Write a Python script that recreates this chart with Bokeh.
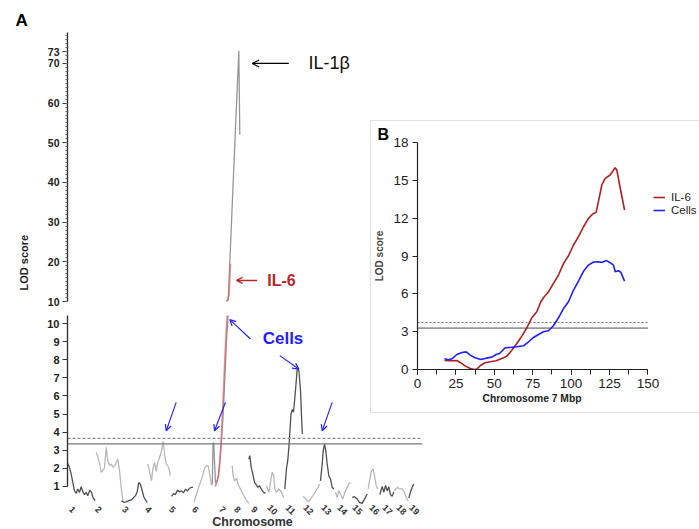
import math
from bokeh.plotting import figure
from bokeh.models import (Range1d, FixedTicker, Label, Arrow, OpenHead, Title,
                          Legend, LegendItem)
from bokeh.core.properties import value
from bokeh.layouts import row, column
from bokeh.embed import file_html
from bokeh.resources import INLINE

FONT = "Liberation Sans"

# ---------------- Panel A data (genome position in plot units, LOD score) ----------------
chromosomes = ["1", "2", "3", "4", "5", "6", "7", "8", "9", "10",
               "11", "12", "13", "14", "15", "16", "17", "18", "19"]
chrom_label_pos = [5, 31, 58, 81, 105, 128, 155, 170, 187, 205,
                   223, 241, 259, 275, 290, 307, 320, 334, 347]
chrom_label_lod = -0.29

chr1_pos = [0.3, 2, 3.7, 5.3, 7, 8.7, 10.3, 12, 13.7, 15.3, 17, 18.7, 20.3, 22.3, 24, 25.7, 27.7]
chr1_lod = [2.27, 2.05, 1.68, 1.22, 0.76, 0.62, 0.86, 0.67, 0.98, 0.71, 0.54, 0.67, 0.49, 0.8, 0.67, 0.36, 0.21]
chr2_pos = [28.7, 30.3, 32.3, 33.7, 35.3, 37, 38.7, 40.3, 42, 43.7, 45.7, 47.3, 49, 50.3, 52, 53.7, 55.3]
chr2_lod = [2.88, 2.6, 2.24, 1.78, 1.87, 2.05, 3.16, 2.42, 2.15, 2.24, 2.05, 2.15, 2.33, 2.51, 1.87, 0.95, 0.21]
chr3_pos = [54, 56.3, 58.7, 61.3, 63.7, 65.7, 68, 69.7, 71.3, 73, 74.7, 76.3, 78, 79.7]
chr3_lod = [0.21, 0.12, 0.15, 0.21, 0.25, 0.36, 0.49, 0.71, 1.22, 1.1, 0.76, 0.43, 0.25, 0.12]
chr4_pos = [80.3, 81.7, 83, 84, 85.3, 87, 88.7, 90.3, 92, 94, 95.7, 97, 98.7, 100.3, 102, 103]
chr4_lod = [2.24, 1.91, 1.54, 1.31, 1.96, 2.33, 1.83, 2.33, 2.57, 2.97, 3.5, 2.79, 2.24, 2.15, 1.87, 1.59]
chr5_pos = [104, 106, 108, 110, 112, 114, 116, 118, 120, 122, 124, 125.5]
chr5_lod = [0.45, 0.6, 0.55, 0.8, 0.7, 0.75, 0.65, 0.85, 0.75, 0.9, 0.95, 0.95]
chr6_pos = [126.5, 128, 130, 132, 134.7, 137, 139, 140.7, 142, 143.7, 144.5]
chr6_lod = [0.12, 0.4, 0.75, 1.1, 1.5, 2.0, 2.15, 2.15, 1.75, 1.15, 1.05]
chr7_pos = [144.8, 145.5, 146.3, 147, 148, 149, 150.5, 153, 155.3, 157.3, 159, 160.7, 171.3, 172.3]
chr7_lod = [1.1, 3.35, 3.43, 2.4, 1.2, 1.22, 1.5, 2.79, 4.63, 6.85, 9.06, 10.5, 73.2, 52]
chr8_pos = [164.7, 165.7, 167, 169, 171, 173, 175, 177, 179, 181.5]
chr8_lod = [2.15, 1.6, 1.3, 1.45, 1.05, 0.86, 0.62, 0.42, 0.22, 0.06]
chr9_pos = [181.3, 182.3, 183.7, 185.7, 187, 188.7, 190.3, 192, 193.7, 195.3, 197, 198]
chr9_lod = [2.51, 2.7, 2.05, 1.59, 1.22, 1.1, 0.95, 1.04, 0.86, 0.73, 0.62, 0.67]
chr10_pos = [199, 201.3, 203, 204.7, 206.3, 207.3, 209, 211.3, 213, 214.7, 216.3]
chr10_lod = [1.04, 0.67, 1.22, 1.78, 1.59, 0.86, 0.67, 0.86, 0.76, 0.58, 0.39]
chr11_pos = [217.3, 219, 220.3, 221.7, 222.7, 223.5, 224.7, 226, 227.5, 228.7, 229.5, 230.5, 231.5, 233, 234, 234.8]
chr11_lod = [0.86, 2.0, 2.45, 3.4, 4.3, 5.0, 5.25, 5.1, 6.0, 6.8, 7.4, 7.55, 7.35, 6.3, 4.9, 3.9]
chr12_pos = [235, 237, 239, 241.3, 243.7, 246.3, 248, 250.3, 252]
chr12_lod = [0.42, 0.4, 0.25, 0.16, 0.35, 0.58, 0.72, 0.92, 1.13]
chr13_pos = [253, 254.7, 255.7, 257, 258.3, 259.7, 261.3, 263, 264.7, 266.3]
chr13_lod = [1.31, 2.24, 2.97, 3.34, 2.97, 2.24, 1.59, 1.41, 0.95, 0.86]
chr14_pos = [268, 269.7, 271.3, 273, 275.3, 277.3, 279.7, 281.3, 283]
chr14_lod = [0.67, 0.39, 0.76, 0.58, 0.3, 0.67, 0.95, 1.13, 1.22]
chr15_pos = [284.7, 287, 289.7, 292, 294.7, 297, 299.7]
chr15_lod = [0.4, 0.43, 0.3, 0.12, 0.06, 0.3, 0.58]
chr16_pos = [300.7, 302.3, 304, 305.7, 307, 308.7, 310.3]
chr16_lod = [0.86, 1.41, 1.87, 1.96, 1.59, 1.04, 0.86]
chr17_pos = [312.3, 314.7, 316.3, 318, 319.7, 321.3, 323, 324.7, 326.3]
chr17_lod = [0.55, 1.0, 0.67, 1.05, 0.76, 0.98, 0.55, 0.45, 0.7]
chr18_pos = [327, 329.7, 332.3, 334.7, 337, 339, 340.7]
chr18_lod = [0.76, 0.95, 0.86, 0.86, 0.67, 0.35, 0.2]
chr19_pos = [341.3, 343, 344.7, 346.3]
chr19_lod = [0.35, 0.7, 0.95, 1.13]

il6_chr7_pos = [147.5, 148.5, 149.7, 151, 152, 153.7, 155.3, 157, 158.7, 159.7, 161.5, 163]
il6_chr7_lod = [1.0, 1.1, 1.32, 1.55, 2.05, 3.53, 5.37, 7.58, 9.6, 10.44, 11.5, 19.5]

a_threshold_span = [0, 355]
a_threshold_dashed = 3.66
a_threshold_solid = 3.35

upper_ticks = [10, 20, 30, 40, 50, 60, 70, 73]
lower_ticks = [1, 2, 3, 4, 5, 6, 7, 8, 9, 10]

# ---------------- Panel B data (chromosome 7 Mbp, LOD) ----------------
b_il6_mbp = [17.6, 21.3, 25.6, 27.8, 31, 34.3, 37.1, 38.6, 41.2, 44.1, 47.3, 51.2, 54.9, 58.2,
             61.4, 64.7, 67.9, 71.2, 74.4, 77.7, 80.3, 82, 85.3, 88.5, 91.8, 95.1, 98.3, 101.6,
             104.8, 108.1, 111.3, 114.1, 116.3, 117.8, 120, 122.2, 125.4, 128.7, 129.8, 132, 134.8]
b_il6_lod = [0.71, 0.69, 0.71, 0.56, 0.29, 0.08, 0, 0.03, 0.34, 0.53, 0.61, 0.69, 0.87, 1.06,
             1.53, 2.06, 2.65, 3.31, 4.1, 4.58, 5.37, 5.69, 6.16, 6.83, 7.49, 8.41, 9.02, 9.87,
             10.53, 11.32, 11.98, 12.33, 12.46, 13.31, 14.63, 15.16, 15.42, 16.0, 15.82, 14.37, 12.65]
b_cells_mbp = [17.6, 20.2, 22.4, 25.6, 28.9, 31.7, 34.3, 37.5, 41.2, 44.7, 48.4, 51.2, 53.4, 57.1,
               60.3, 64.7, 69, 72.3, 75.5, 78.8, 82, 85.3, 88.5, 91.8, 95.1, 98.3, 101.6, 104.8,
               108.1, 111.3, 114.6, 117.8, 120, 122.8, 125.4, 127.6, 128.7, 130.9, 132.4, 134.8]
b_cells_lod = [0.85, 0.77, 0.85, 1.19, 1.35, 1.4, 1.14, 0.93, 0.79, 0.9, 0.98, 1.19, 1.27, 1.72,
               1.75, 1.8, 1.88, 2.2, 2.54, 2.78, 2.99, 3.07, 3.47, 4.1, 4.84, 5.37, 6.3, 7.01,
               7.8, 8.28, 8.52, 8.54, 8.49, 8.65, 8.47, 8.28, 7.75, 7.83, 7.7, 7.01]
b_threshold_span = [0, 150]
b_threshold_dashed = 3.73
b_threshold_solid = 3.28
b_xticks = [0, 25, 50, 75, 100, 125, 150]
b_xminor = [0, 12.5, 25, 37.5, 50, 62.5, 75, 87.5, 100, 112.5, 125, 137.5, 150]
b_yticks = [0, 3, 6, 9, 12, 15, 18]

chrom_pos = [chr1_pos, chr2_pos, chr3_pos, chr4_pos, chr5_pos, chr6_pos, chr7_pos, chr8_pos,
             chr9_pos, chr10_pos, chr11_pos, chr12_pos, chr13_pos, chr14_pos, chr15_pos,
             chr16_pos, chr17_pos, chr18_pos, chr19_pos]
chrom_lod = [chr1_lod, chr2_lod, chr3_lod, chr4_lod, chr5_lod, chr6_lod, chr7_lod, chr8_lod,
             chr9_lod, chr10_lod, chr11_lod, chr12_lod, chr13_lod, chr14_lod, chr15_lod,
             chr16_lod, chr17_lod, chr18_lod, chr19_lod]

DARK, LIGHT, MID = "#505050", "#b8b8b8", "#969696"
IL6_PINK = "#d46a6a"
BLUE = "#1f1fff"


def style_y(ax, size="11px"):
    ax.axis_line_color = "#333333"
    ax.axis_line_width = 1.4
    ax.major_tick_line_color = "#333333"
    ax.major_tick_line_width = 1.2
    ax.major_tick_out = 5
    ax.major_tick_in = 0
    ax.minor_tick_line_color = "#666666"
    ax.minor_tick_out = 2
    ax.minor_tick_in = 0
    ax.major_label_text_font = FONT
    ax.major_label_text_font_style = "bold"
    ax.major_label_text_font_size = size
    ax.major_label_text_color = "#222222"
    ax.major_label_standoff = 3


def base(fig):
    fig.grid.visible = False
    fig.outline_line_color = None
    fig.background_fill_color = "white"
    fig.border_fill_color = "white"


def try_set(obj, name, val):
    try:
        setattr(obj, name, val)
    except Exception:
        pass


xr = Range1d(0, 355)

# ---------------- Panel A upper (LOD 10-78) ----------------
pu = figure(frame_width=355, frame_height=269, x_range=xr, y_range=Range1d(10, 77.8),
            x_axis_location=None, output_backend="svg", toolbar_location=None,
            min_border_left=67, min_border_right=6, min_border_top=32, min_border_bottom=7)
base(pu)
style_y(pu.yaxis[0], "10.5px")
pu.yaxis[0].ticker = FixedTicker(ticks=upper_ticks, minor_ticks=list(range(10, 78)))
tA = Title(text="A", align="left", offset=-52, text_font=FONT, text_font_style="bold",
           text_font_size="17px", text_color="black")
try_set(tA, "standoff", 6)
pu.add_layout(tA, "above")
tY = Title(text="LOD score", align="left", offset=11, text_font=FONT,
           text_font_style="bold", text_font_size="11px", text_color="#222222")
try_set(tY, "standoff", 29)
pu.add_layout(tY, "left")

# ---------------- Panel A lower (LOD -1.38..10.45; labels drawn below LOD 0) ----------------
pl = figure(frame_width=355, frame_height=214, x_range=xr, y_range=Range1d(-1.382, 10.45),
            x_axis_location=None, output_backend="svg", toolbar_location=None,
            min_border_left=67, min_border_right=6, min_border_top=7, min_border_bottom=0)
base(pl)
style_y(pl.yaxis[0], "11px")
pl.yaxis[0].ticker = FixedTicker(ticks=lower_ticks, minor_ticks=[])
pl.yaxis[0].bounds = (1, 10.45)

for fig in (pu, pl):
    for i, (xs, ys) in enumerate(zip(chrom_pos, chrom_lod)):
        col = MID if i == 6 else (DARK if i % 2 == 0 else LIGHT)
        fig.line(xs, ys, line_color=col, line_width=1.3)
    fig.line(il6_chr7_pos, il6_chr7_lod, line_color=IL6_PINK, line_width=1.6, line_alpha=0.75)

pl.line(a_threshold_span, [a_threshold_dashed] * 2, line_color="#8a8a8a", line_width=1.2,
        line_dash="3 2")
pl.line(a_threshold_span, [a_threshold_solid] * 2, line_color="#777777", line_width=1.2)

# chromosome tick labels
pl.text(x=chrom_label_pos, y=[chrom_label_lod] * len(chromosomes), text=chromosomes,
        angle=-math.pi / 4, text_align="center", text_baseline="middle",
        text_font=value(FONT), text_font_style="bold", text_font_size="9px",
        text_color="#333333")
pl.add_layout(Label(x=185, y=-0.97, text="Chromosome", text_font=FONT, text_font_style="bold",
                    text_font_size="12.5px", text_align="center", text_baseline="middle",
                    text_color="#333333"))

# in-frame annotations panel A
pu.add_layout(Arrow(x_start=221.3, y_start=70, x_end=184.7, y_end=70, line_color="black",
                    line_width=1.2, end=OpenHead(size=7, line_color="black", line_width=1.2)))
pu.add_layout(Label(x=241, y=70, text="IL-1β", text_font=FONT, text_font_size="18px",
                    text_align="left", text_baseline="middle", text_color="#111111"))
pu.add_layout(Arrow(x_start=189.7, y_start=15.3, x_end=169, y_end=15.3, line_color="#b5282b",
                    line_width=1.4, end=OpenHead(size=6, line_color="#b5282b", line_width=1.4)))
pu.add_layout(Label(x=199.7, y=15.3, text="IL-6", text_font=FONT, text_font_style="bold",
                    text_font_size="16px", text_align="left", text_baseline="middle",
                    text_color="#b5282b"))

blue_arrows = [(183, 9.15, 162.3, 10.22), (212.3, 8.23, 231.3, 7.49),
               (108.7, 5.65, 98.7, 4.08), (158, 5.65, 147, 4.08), (264.7, 5.65, 254.7, 4.08)]
for xs_, ys_, xe_, ye_ in blue_arrows:
    pl.add_layout(Arrow(x_start=xs_, y_start=ys_, x_end=xe_, y_end=ye_, line_color=BLUE,
                        line_width=1.1, end=OpenHead(size=6, line_color=BLUE, line_width=1.2)))
pl.add_layout(Label(x=215.5, y=9.17, text="Cells", text_font=FONT, text_font_style="bold",
                    text_font_size="17px", text_align="center", text_baseline="middle",
                    text_color=BLUE))

# ---------------- Panel B ----------------
pb = figure(frame_width=282, frame_height=227, x_range=Range1d(0, 183.6), y_range=Range1d(0, 18),
            output_backend="svg", toolbar_location=None,
            min_border_left=47, min_border_right=0, min_border_top=22, min_border_bottom=44,
            margin=(120, 0, 0, -58),
            styles={"box-shadow": "inset 1px 1px 0 0 #e2e2e2, inset 0 -1px 0 0 #e2e2e2"})
pb.grid.visible = False
pb.outline_line_color = None
pb.background_fill_alpha = 0
pb.border_fill_alpha = 0
for ax in (pb.xaxis[0], pb.yaxis[0]):
    ax.axis_line_color = "#222222"
    ax.axis_line_width = 1.2
    ax.major_tick_line_color = "#222222"
    ax.minor_tick_line_color = "#222222"
    ax.major_tick_out = 5
    ax.major_tick_in = 0
    ax.minor_tick_out = 5
    ax.minor_tick_in = 0
    ax.major_label_text_font = FONT
    ax.major_label_text_font_size = "13.5px"
    ax.major_label_text_color = "#222222"
    ax.major_label_standoff = 4
pb.xaxis[0].ticker = FixedTicker(ticks=b_xticks, minor_ticks=b_xminor)
pb.xaxis[0].bounds = (0, 150)
pb.yaxis[0].ticker = FixedTicker(ticks=b_yticks, minor_ticks=[])
pb.yaxis[0].axis_label = "LOD score"
pb.yaxis[0].axis_label_text_font = FONT
pb.yaxis[0].axis_label_text_font_style = "bold"
pb.yaxis[0].axis_label_text_font_size = "10px"
pb.yaxis[0].axis_label_standoff = 5

pb.line(b_threshold_span, [b_threshold_dashed] * 2, line_color="#777777", line_width=1.1,
        line_dash="2 2")
pb.line(b_threshold_span, [b_threshold_solid] * 2, line_color="#999999", line_width=1.6)
r_il6 = pb.line(b_il6_mbp, b_il6_lod, line_color="#b01e1e", line_width=1.6)
r_cells = pb.line(b_cells_mbp, b_cells_lod, line_color=BLUE, line_width=1.6)

legend = Legend(items=[LegendItem(label="IL-6", renderers=[r_il6]),
                       LegendItem(label="Cells", renderers=[r_cells])],
                location=(236, 153), background_fill_alpha=0, border_line_color=None,
                padding=0, margin=0, spacing=1, glyph_width=12, glyph_height=12,
                label_height=12, label_standoff=6, label_text_font=FONT,
                label_text_font_size="11.5px", label_text_color="#222222")
pb.add_layout(legend)

tB = Title(text="B", align="left", offset=-40, text_font=FONT, text_font_style="bold",
           text_font_size="16px", text_color="black")
try_set(tB, "standoff", 0)
pb.add_layout(tB, "above")
tX = Title(text="Chromosome 7 Mbp", align="left", offset=65, text_font=FONT,
           text_font_style="bold", text_font_size="10.3px", text_color="#222222")
try_set(tX, "standoff", 0)
pb.add_layout(tX, "below")

layout = row(column(pu, pl), pb)
open("out.html", "w").write(file_html(layout, INLINE))
